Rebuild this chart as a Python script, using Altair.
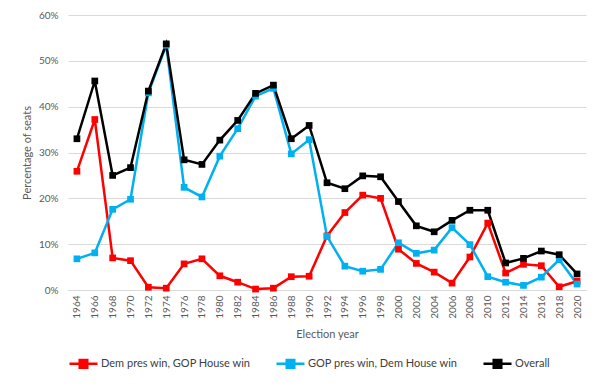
import altair as alt
import pandas as pd

years = [1964, 1966, 1968, 1970, 1972, 1974, 1976, 1978, 1980, 1982, 1984, 1986, 1988, 1990,
         1992, 1994, 1996, 1998, 2000, 2002, 2004, 2006, 2008, 2010, 2012, 2014, 2016, 2018, 2020]
dem = [25.9, 37.2, 7.0, 6.4, 0.6, 0.4, 5.7, 6.8, 3.1, 1.7, 0.2, 0.4, 2.9, 3.0,
       11.8, 16.9, 20.7, 20.0, 8.9, 5.8, 3.9, 1.5, 7.2, 14.6, 3.7, 5.6, 5.3, 0.7, 1.9]
gop = [6.8, 8.1, 17.6, 19.8, 43.0, 53.4, 22.4, 20.3, 29.2, 35.2, 42.3, 44.0, 29.7, 32.8,
       11.7, 5.2, 4.1, 4.5, 10.3, 8.0, 8.7, 13.6, 9.9, 2.9, 1.7, 1.0, 2.8, 6.6, 1.3]
overall = [33.0, 45.6, 25.0, 26.7, 43.4, 53.7, 28.4, 27.4, 32.7, 37.0, 42.9, 44.7, 33.0, 35.9,
           23.4, 22.1, 24.9, 24.7, 19.3, 14.0, 12.7, 15.2, 17.4, 17.4, 5.9, 6.9, 8.5, 7.7, 3.5]
series = ["Dem pres win, GOP House win", "GOP pres win, Dem House win", "Overall"]
colors = ["#FF0000", "#00B0F0", "#000000"]

rows = []
for i, (name, vals) in enumerate(zip(series, [dem, gop, overall])):
    for yr, v in zip(years, vals):
        rows.append({"year": str(yr), "series": name, "value": v / 100, "k": i})
df = pd.DataFrame(rows)

FONT = "Lato"
GRID = "#D9D9D9"
TXT = "#595959"
sym = "M-1,0H1M-0.27,-0.27H0.27V0.27H-0.27ZM-0.15,-0.15H0.15V0.15H-0.15Z"

color = alt.Color(
    "series:N",
    scale=alt.Scale(domain=series, range=colors),
    legend=alt.Legend(
        title=None, orient="none", direction="horizontal", legendX=0, legendY=333,
        columns=3, gridAlign="all", columnPadding=20, symbolType=sym, symbolSize=784,
        symbolStrokeWidth=2.5, labelFont=FONT, labelFontSize=11, labelColor="#404040",
        labelOffset=2, labelLimit=300,
    ),
)
x = alt.X(
    "year:O", sort=[str(y) for y in years],
    axis=alt.Axis(title="Election year", labelAngle=-90, ticks=False, domainColor=GRID,
                  labelPadding=5, labelFontSize=10, labelColor=TXT, labelFont=FONT,
                  titleFont=FONT, titleFontSize=11, titleFontWeight="normal",
                  titleColor=TXT, titlePadding=10, grid=False),
)
y = alt.Y(
    "value:Q", scale=alt.Scale(domain=[0, 0.6]),
    axis=alt.Axis(title="Percentage of seats", format=".0%", values=[0, .1, .2, .3, .4, .5, .6],
                  ticks=False, domain=False, gridColor=GRID, labelPadding=10,
                  labelFontSize=10, labelColor=TXT, labelFont=FONT, titleFont=FONT,
                  titleFontSize=11, titleFontWeight="normal", titleColor=TXT, titlePadding=6),
)

base = alt.Chart(df).encode(x=x, y=y, color=color, order=alt.Order("k:Q"))
lines = base.mark_line(strokeWidth=2.5).encode(detail="series:N")
pts = base.mark_point(shape="square", filled=True, size=45, opacity=1)

chart = alt.layer(lines, pts).properties(
    width=518, height=275,
    autosize=alt.AutoSizeParams(type="none"),
    padding={"left": 60, "top": 7, "right": 6, "bottom": 90},
).configure_view(stroke=None)

chart.save("out.html", embed_options={"renderer": "svg", "actions": False})
